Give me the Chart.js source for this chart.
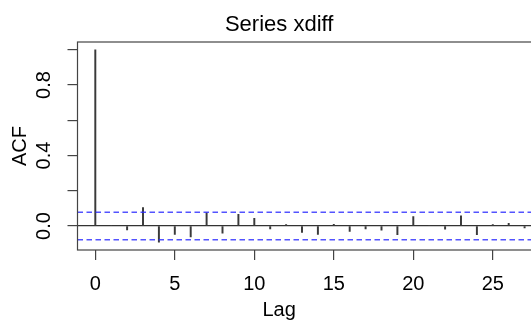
<!DOCTYPE html>
<html>
<head>
<meta charset="utf-8">
<script src="https://cdn.jsdelivr.net/npm/chart.js@4"></script>
<style>
  html, body { margin: 0; padding: 0; background: #fff; overflow: hidden; }
</style>
</head>
<body>
<canvas id="acfChart" width="606" height="320"></canvas>
<script>
// acf values (lag 28 falls outside the visible area)
const lags = [0, 1, 2, 3, 4, 5, 6, 7, 8, 9, 10, 11, 12, 13, 14, 15, 16, 17, 18, 19, 20, 21, 22, 23, 24, 25, 26, 27];
const acfValues = [1.0, 0.002, -0.022, 0.104, -0.092, -0.047, -0.062, 0.075, -0.041, 0.066, 0.043, -0.017, 0.008,
  -0.036, -0.047, 0.009, -0.030, -0.017, -0.023, -0.049, 0.053, 0.002, -0.018, 0.058, -0.049, 0.008, 0.015, -0.011];
const ciBound = 0.0775;
const xTickLabels = ['0', '5', '10', '15', '20', '25'];
const yTickLabels = ['0.0', '0.4', '0.8'];
const xMin = -1.12, xMax = 29.12;
const yMin = -0.136, yMax = 1.044;

const FONT = '"Liberation Sans", Arial, Helvetica, sans-serif';
Chart.defaults.font.family = FONT;
Chart.defaults.color = '#000';

// R style box round the plot region
const boxPlugin = {
  id: 'box',
  afterDraw(chart) {
    const { ctx, chartArea: a } = chart;
    ctx.save();
    ctx.strokeStyle = '#444';
    ctx.lineWidth = 1.2;
    ctx.strokeRect(a.left, a.top, a.right - a.left, a.bottom - a.top);
    ctx.restore();
  }
};

const ctx = document.getElementById('acfChart').getContext('2d');
new Chart(ctx, {
  type: 'bar',
  data: {
    datasets: [
      {
        type: 'line',
        data: [{ x: xMin, y: ciBound }, { x: xMax, y: ciBound }],
        borderColor: 'rgba(40, 40, 255, 0.8)',
        borderWidth: 1.5,
        borderDash: [5.5, 3.5],
        pointRadius: 0
      },
      {
        type: 'line',
        data: [{ x: xMin, y: -ciBound }, { x: xMax, y: -ciBound }],
        borderColor: 'rgba(40, 40, 255, 0.8)',
        borderWidth: 1.5,
        borderDash: [5.5, 3.5],
        pointRadius: 0
      },
      {
        type: 'bar',
        data: lags.map((l, i) => ({ x: l, y: acfValues[i] })),
        backgroundColor: '#3a3a3a',
        borderWidth: 0,
        barThickness: 1.3,
        grouped: false
      }
    ]
  },
  options: {
    responsive: false,
    animation: false,
    layout: { padding: { left: 0, right: 47.7, top: 0, bottom: 0 } },
    plugins: {
      legend: { display: false },
      tooltip: { enabled: false },
      title: {
        display: true,
        text: 'Series xdiff',
        color: '#000',
        font: { size: 22, weight: 'normal', lineHeight: 1 },
        padding: { top: 14, bottom: 6 }
      },
      subtitle: {
        display: true,
        position: 'bottom',
        text: 'Lag',
        color: '#000',
        font: { size: 20, weight: 'normal', lineHeight: 1 },
        padding: { top: 0, bottom: 0 }
      }
    },
    scales: {
      x: {
        type: 'linear',
        min: xMin,
        max: xMax,
        offset: false,
        border: { display: false },
        grid: { offset: false, drawOnChartArea: false, tickLength: 10, tickColor: '#444', lineWidth: 1.2 },
        ticks: {
          stepSize: 5,
          includeBounds: false,
          maxRotation: 0,
          autoSkip: false,
          padding: 12,
          font: { size: 20 },
          callback: (v) => xTickLabels.find(t => Number(t) === v) ?? ''
        },
        afterFit: (s) => { s.height = 50; }
      },
      y: {
        min: yMin,
        max: yMax,
        border: { display: false },
        grid: {
          color: (c) => (c.tick && c.tick.value === 0 ? '#333' : 'rgba(0,0,0,0)'),
          tickColor: '#444',
          tickLength: 10,
          lineWidth: 1.2
        },
        ticks: {
          stepSize: 0.2,
          includeBounds: false,
          minRotation: 90,
          maxRotation: 90,
          crossAlign: 'center',
          padding: 9,
          font: { size: 20 },
          callback: (v) => yTickLabels.find(t => Math.abs(Number(t) - v) < 1e-6) ?? ''
        },
        title: {
          display: true,
          text: 'ACF',
          font: { size: 20 },
          padding: { top: 8, bottom: 0 }
        },
        afterFit: (s) => { s.width = 77.5; }
      }
    }
  },
  plugins: [boxPlugin]
});
</script>
</body>
</html>
